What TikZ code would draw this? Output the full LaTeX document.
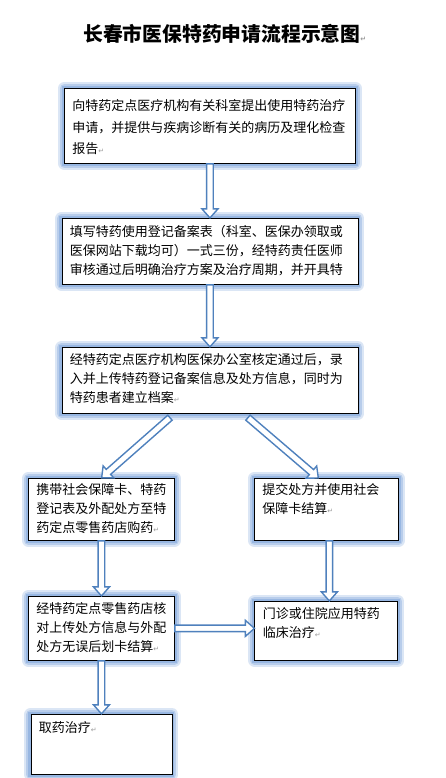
\documentclass[tikz,border=0pt]{standalone}
\usepackage{fontspec}
\setmainfont{Noto Sans CJK SC}
\newfontfamily\symfont{DejaVu Sans}
\usepackage{xcolor}
\usetikzlibrary{calc,positioning}
\definecolor{arrowblue}{HTML}{4F81BD}
\definecolor{glowblue}{HTML}{7FA6DC}
\definecolor{markgray}{HTML}{9A9A9A}
\newcommand{\retmark}{{\symfont\color{markgray}\fontsize{7pt}{7pt}\selectfont ↵}}
% hollow block arrow from #1 to #2
\newcommand{\hollowarrow}[2]{%
  \draw[blockarrow] let \p1=(#1), \p2=(#2),
    \n1={atan2(\y2-\y1,\x2-\x1)}, \n2={veclen(\x2-\x1,\y2-\y1)}, \n3={\n2-9pt} in
    [shift={(\p1)},rotate=\n1]
    (0pt,-3.3pt) -- (\n3,-3.3pt) -- (\n3,-8pt) -- (\n2,0pt)
    -- (\n3,8pt) -- (\n3,3.3pt) -- (0pt,3.3pt) -- cycle;}

\begin{document}
\begin{tikzpicture}[
  x=1pt,y=-1pt,
  box/.style={draw=black,line width=0.9pt,fill=white,align=left,inner xsep=8pt,inner ysep=6pt,
    font=\fontsize{13pt}{19pt}\selectfont,
    preaction={draw=glowblue,opacity=0.28,line width=13pt,line join=round},
    preaction={draw=glowblue,opacity=0.38,line width=9pt,line join=round},
    preaction={draw=glowblue,opacity=0.55,line width=5pt}},
  blockarrow/.style={draw=arrowblue,fill=white,line width=1.4pt},
  title/.style={font=\bfseries\fontsize{19.8pt}{24pt}\selectfont,inner sep=0pt}
]
\fill[white] (0,0) rectangle (446,778);
\useasboundingbox (0,0) rectangle (446,778);

\node[title,anchor=west] (head) at (83,34) {长春市医保特药申请流程示意图\retmark};

\node[box,anchor=north west,text width=275pt,text height=16pt,text depth=47pt,
  font=\fontsize{13pt}{21.7pt}\selectfont] (apply) at (64,88)
  {向特药定点医疗机构有关科室提出使用特药治疗\\申请，并提供与疾病诊断有关的病历及理化检查\\报告\retmark};
\node[box,below=54pt of apply,text width=280pt,text height=12pt,text depth=42pt] (form)
  {填写特药使用登记备案表（科室、医保办领取或\\医保网站下载均可）一式三份，经特药责任医师\\审核通过后明确治疗方案及治疗周期，并开具特};
\node[box,below=62pt of form,text width=280pt,text height=11pt,text depth=43pt] (check)
  {经特药定点医疗机构医保办公室核定通过后，录\\入并上传特药登记备案信息及处方信息，同时为\\特药患者建立档案\retmark};
\node[box,anchor=north west,text width=130pt,text height=10pt,text depth=40pt] (carry) at (28,478)
  {携带社会保障卡、特药\\登记表及外配处方至特\\药定点零售药店购药\retmark};
\node[box,right=79pt of carry,text width=128pt,text height=10pt,text depth=40pt] (submit)
  {提交处方并使用社会\\保障卡结算\retmark};
\node[box,below=55pt of carry,text width=130pt,text height=11pt,text depth=41pt] (settle)
  {经特药定点零售药店核\\对上传处方信息与外配\\处方无误后划卡结算\retmark};
\node[box,below=60pt of submit,text width=127pt,text height=11pt,text depth=36pt] (treat)
  {门诊或住院应用特药\\临床治疗\retmark};
\node[box,below=53pt of settle,text width=125pt,text height=12pt,text depth=36pt] (take)
  {取药治疗\retmark};

\hollowarrow{apply.south}{form.north}
\hollowarrow{form.south}{check.north}
\hollowarrow{[xshift=-40pt,yshift=-4pt]check.south}{carry.north}
\hollowarrow{[xshift=38pt,yshift=-4pt]check.south}{[xshift=-8pt]submit.north}
\hollowarrow{carry.south}{settle.north}
\hollowarrow{[xshift=3pt]submit.south}{[xshift=3pt]submit.south |- treat.north}
\hollowarrow{settle.east}{settle.east -| treat.west}
\hollowarrow{settle.south}{settle.south |- take.north}
\end{tikzpicture}
\end{document}
